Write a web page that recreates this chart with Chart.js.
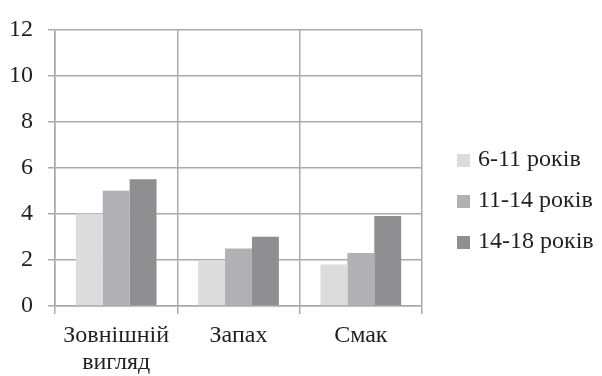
<!DOCTYPE html>
<html>
<head>
<meta charset="utf-8">
<script src="https://cdn.jsdelivr.net/npm/chart.js@4"></script>
</head>
<body style="margin:0">
<div id="wrap" style="position:relative;width:602px;height:376px">
  <div id="legend" style="position:absolute;left:457px;top:0;font:24px 'Liberation Serif';color:#231f20"></div>
  <canvas id="c" width="602" height="376"></canvas>
</div>
<script>
// Categories (x axis) and series by age group
const categories = [["Зовнішній", "вигляд"], "Запах", "Смак"];
const seriesNames = ["6-11 років", "11-14 років", "14-18 років"];
const age6to11 = [4, 2, 1.8];
const age11to14 = [5, 2.5, 2.3];
const age14to18 = [5.5, 3, 3.9];
const yTicks = [0, 2, 4, 6, 8, 10, 12];

const colors = ["#dcdcdd", "#b1b1b3", "#8f8f91"];

// Legend on the right, one row per series
const legendEl = document.getElementById("legend");
seriesNames.forEach((name, i) => {
  const row = document.createElement("div");
  row.style.cssText = "position:absolute;left:0;white-space:nowrap;height:28px;line-height:28px;top:" + (144 + i * 41) + "px";
  const box = document.createElement("span");
  box.style.cssText = "display:inline-block;width:13px;height:13px;margin-right:8px;vertical-align:-1px;background:" + colors[i];
  row.appendChild(box);
  row.appendChild(document.createTextNode(name));
  legendEl.appendChild(row);
});

Chart.defaults.font.family = "'Liberation Serif'";
Chart.defaults.font.size = 24;
Chart.defaults.color = "#231f20";

const chart = new Chart(document.getElementById("c"), {
  type: "bar",
  data: {
    labels: categories,
    datasets: [age6to11, age11to14, age14to18].map((d, i) => ({
      label: seriesNames[i],
      data: d,
      backgroundColor: colors[i],
      borderWidth: 0,
      barPercentage: 1,
      categoryPercentage: 0.66
    }))
  },
  options: {
    responsive: false,
    animation: false,
    layout: { padding: { left: 10, right: 180, top: 12, bottom: 0 } },
    plugins: {
      tooltip: { enabled: false },
      legend: { display: false }
    },
    scales: {
      x: {
        afterFit: (s) => { s.height = 70; },
        grid: { color: "#aaaaaa", lineWidth: 1.5, offset: true, tickLength: 8 },
        border: { color: "#aaaaaa", width: 1.5 },
        ticks: { padding: 8, maxRotation: 0, font: { family: "'Liberation Serif'", lineHeight: 1.12 } }
      },
      y: {
        min: 0, max: 12,
        afterFit: (s) => { s.width = 45; },
        afterBuildTicks: (axis) => { axis.ticks = yTicks.map(v => ({ value: v })); },
        grid: { color: "#aaaaaa", lineWidth: 1.5, tickLength: 7 },
        border: { color: "#aaaaaa", width: 1.5 },
        ticks: { padding: 15, font: { family: "'Liberation Serif'" } }
      }
    }
  }
});
</script>
</body>
</html>
